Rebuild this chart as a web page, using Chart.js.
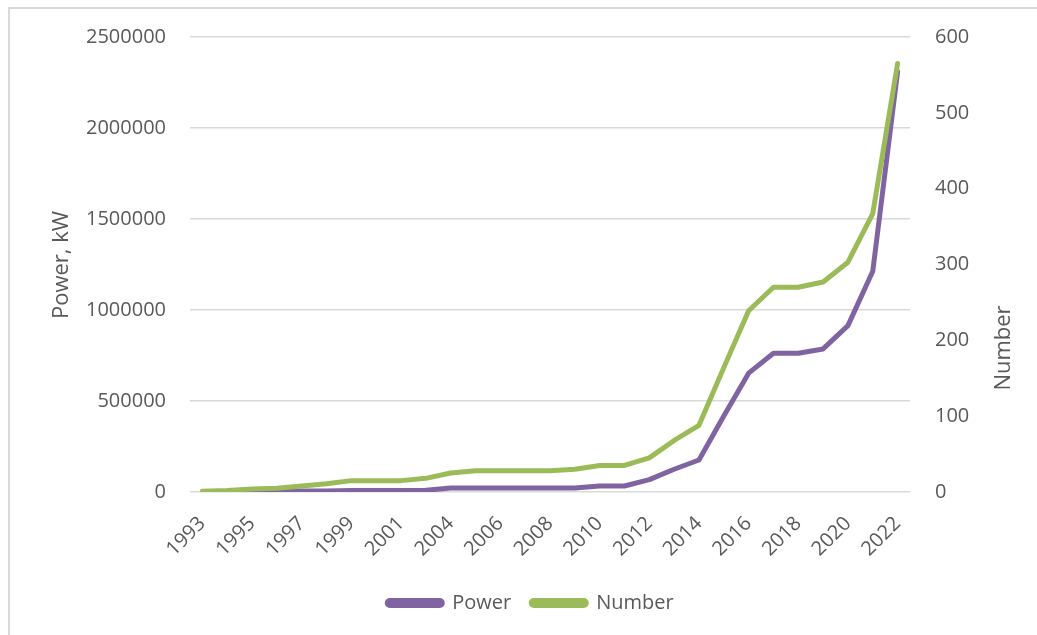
<!DOCTYPE html>
<html>
<head>
<meta charset="utf-8">
<script src="https://cdn.jsdelivr.net/npm/chart.js@4/dist/chart.umd.min.js"></script>
<style>
    body { margin: 0; background: #fff; }
    #wrap { position: relative; width: 1037px; height: 635px; overflow: hidden; }
    #frame { position: absolute; left: 8px; top: 7px; width: 1100px; height: 700px;
             border-left: 2px solid #d9d9d9; border-top: 2px solid #d9d9d9; }
    canvas { position: absolute; left: 0; top: 0; }
</style>
</head>
<body>
<div id="wrap">
    <div id="frame"></div>
    <canvas id="chart" width="1037" height="635"></canvas>
</div>
<script>
// Годы (2002 в исходных данных отсутствует)
const years = ['1993', '1994', '1995', '1996', '1997', '1998', '1999', '2000', '2001', '2003',
    '2004', '2005', '2006', '2007', '2008', '2009', '2010', '2011', '2012', '2013',
    '2014', '2015', '2016', '2017', '2018', '2019', '2020', '2021', '2022'];

// Мощность, кВт
const power = [500, 1000, 2000, 3000, 5000, 6000, 8000, 8000, 8000, 9000,
    22000, 22000, 22000, 22000, 22000, 22000, 33000, 33000, 68000, 125000,
    176000, 418000, 653000, 762000, 762000, 786000, 914000, 1213000, 2310000];

// Количество
const number = [1, 2, 4, 5, 8, 11, 15, 15, 15, 18,
    25, 28, 28, 28, 28, 30, 35, 35, 45, 68,
    88, 164, 239, 270, 270, 277, 303, 367, 565];

const textColor = '#595959';
const font = { family: "'Open Sans', sans-serif", size: 20 };

// Подписи осей рисуем сами, чтобы правая читалась снизу вверх
const axisTitles = {
    id: 'axisTitles',
    afterDraw(chart) {
        const ctx = chart.ctx;
        const drawTitle = (text, x, y) => {
            ctx.save();
            ctx.fillStyle = textColor;
            ctx.font = "22px 'Open Sans', sans-serif";
            ctx.textAlign = 'center';
            ctx.textBaseline = 'middle';
            ctx.translate(x, y);
            ctx.rotate(-Math.PI / 2);
            ctx.fillText(text, 0, 0);
            ctx.restore();
        };
        drawTitle('Power, kW', 62, 265);
        drawTitle('Number', 1004, 348);
    }
};

new Chart(document.getElementById('chart'), {
    type: 'line',
    data: {
        labels: years,
        datasets: [{
            label: 'Power',
            data: power,
            yAxisID: 'y',
            borderColor: '#8064a2',
            backgroundColor: '#8064a2',
            borderWidth: 5,
            pointRadius: 0,
            borderCapStyle: 'round',
            borderJoinStyle: 'round',
            order: 1
        }, {
            label: 'Number',
            data: number,
            yAxisID: 'y1',
            borderColor: '#9bbb59',
            backgroundColor: '#9bbb59',
            borderWidth: 5,
            pointRadius: 0,
            borderCapStyle: 'round',
            borderJoinStyle: 'round',
            order: 0
        }]
    },
    options: {
        responsive: false,
        animation: false,
        layout: { padding: { top: 37, bottom: 12, left: 24, right: 0 } },
        plugins: {
            tooltip: { enabled: false },
            legend: {
                position: 'bottom',
                labels: {
                    color: textColor,
                    font: font,
                    boxWidth: 55,
                    boxHeight: 5,
                    useBorderRadius: true,
                    borderRadius: 2.5,
                    padding: 20,
                    sort: (a, b) => a.datasetIndex - b.datasetIndex
                }
            }
        },
        scales: {
            x: {
                offset: true,
                grid: { display: false },
                border: { display: false },
                ticks: {
                    color: textColor,
                    font: font,
                    autoSkip: false,
                    maxRotation: 45,
                    minRotation: 45,
                    padding: 12,
                    callback: function (value, index) {
                        return index % 2 === 0 ? this.getLabelForValue(value) : '';
                    }
                },
                afterFit: scale => { scale.height = 81; }
            },
            y: {
                position: 'left',
                min: 0,
                max: 2500000,
                grid: { color: '#d9d9d9', lineWidth: 1.5, drawTicks: false },
                border: { display: false },
                ticks: {
                    stepSize: 500000, color: textColor, font: font, padding: 24,
                    callback: value => String(value)
                },
                afterFit: scale => { scale.width = 166; }
            },
            y1: {
                position: 'right',
                min: 0,
                max: 600,
                grid: { display: false, drawTicks: false },
                border: { display: false },
                ticks: { stepSize: 100, color: textColor, font: font, padding: 25 },
                afterFit: scale => { scale.width = 127; }
            }
        }
    },
    plugins: [axisTitles]
});
</script>
</body>
</html>
